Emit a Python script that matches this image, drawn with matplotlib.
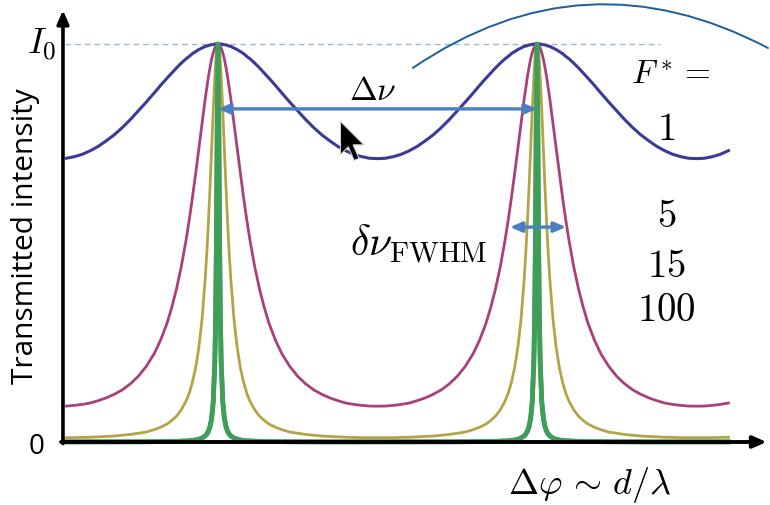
import matplotlib
matplotlib.use("Agg")
import numpy as np
import matplotlib.pyplot as plt
from matplotlib.path import Path

plt.rcParams['mathtext.fontset'] = 'cm'

# distance from a transmission peak, in units of the free spectral range
offset = [0, 0.0025, 0.005, 0.0075, 0.01, 0.015, 0.02, 0.025, 0.03, 0.035, 0.04,
          0.05, 0.06, 0.07, 0.08, 0.09, 0.1, 0.115, 0.13, 0.145, 0.16, 0.18, 0.2,
          0.225, 0.25, 0.275, 0.3, 0.325, 0.35, 0.375, 0.4, 0.425, 0.45, 0.475, 0.5]

# transmitted intensity (I/I0) at those offsets
t_f1 = [1.000, 1.000, 1.000, 1.000, 1.000, 0.999, 0.998, 0.998, 0.996, 0.995, 0.994,
        0.990, 0.986, 0.981, 0.976, 0.969, 0.963, 0.952, 0.940, 0.927, 0.914, 0.896,
        0.877, 0.854, 0.832, 0.810, 0.790, 0.772, 0.757, 0.743, 0.732, 0.723, 0.717,
        0.713, 0.712]
t_f5 = [1.000, 0.999, 0.998, 0.994, 0.990, 0.978, 0.962, 0.941, 0.918, 0.891, 0.863,
        0.801, 0.738, 0.675, 0.615, 0.559, 0.508, 0.441, 0.385, 0.338, 0.298, 0.256,
        0.222, 0.190, 0.165, 0.146, 0.131, 0.120, 0.111, 0.104, 0.098, 0.0945, 0.092,
        0.0903, 0.090]
t_f15 = [1.000, 0.994, 0.978, 0.952, 0.917, 0.832, 0.736, 0.640, 0.553, 0.477, 0.411,
         0.309, 0.238, 0.187, 0.151, 0.123, 0.103, 0.081, 0.065, 0.054, 0.045, 0.037,
         0.031, 0.025, 0.022, 0.019, 0.017, 0.015, 0.014, 0.013, 0.012, 0.0115, 0.011,
         0.011, 0.011]
t_f100 = [1.000, 0.800, 0.500, 0.308, 0.200, 0.100, 0.059, 0.0385, 0.027, 0.020,
          0.0155, 0.010, 0.007, 0.005, 0.004, 0.003, 0.0026, 0.002, 0.0016, 0.0013,
          0.0011, 0.0009, 0.0007, 0.0006, 0.0005, 0.0004, 0.0004, 0.0003, 0.0003,
          0.0003, 0.0003, 0.0003, 0.0003, 0.0003, 0.0003]

peaks = [0, 1, 2]
phase_min, phase_max = -0.48, 1.6

finesse_labels = ['1', '5', '15', '100']
label_y = [0.79, 0.57, 0.445, 0.335]

curves = [
    (t_f100, '#3f9e58', 3.4, 2),
    (t_f15, '#b3a447', 2.0, 3),
    (t_f5, '#a8407c', 2.0, 3),
    (t_f1, '#3b3a96', 2.2, 3),
]


def full_curve(values):
    off = np.array(offset)
    val = np.array(values)
    xs, ys = [], []
    for p in peaks:
        xs.append(p - off[:0:-1])
        ys.append(val[:0:-1])
        xs.append(p + off[:-1])
        ys.append(val[:-1])
    x = np.concatenate(xs)
    y = np.concatenate(ys)
    keep = (x >= phase_min) & (x <= phase_max)
    return x[keep], y[keep]


fig = plt.figure(figsize=(7.7, 5.06), dpi=100)
ax = fig.add_axes([0, 0, 1, 1])
ax.set_xlim(-0.6834, 1.7304)
ax.set_ylim(-0.1583, 1.1131)
ax.axis('off')

for vals, col, lw, z in curves:
    x, y = full_curve(vals)
    ax.plot(x, y, color=col, lw=lw, zorder=z, solid_joinstyle='round')
# green peaks sit on top of the others
x, y = full_curve(t_f100)
ax.plot(x, y, color='#3f9e58', lw=3.4, zorder=4)

# I0 level
ax.plot([-0.48, 1.386], [1, 1], color='#9fb4cf', lw=1.0, ls=(0, (4, 3)), zorder=1)

# axes with arrows
ax.annotate('', xy=(-0.486, 1.085), xytext=(-0.486, -0.004),
            arrowprops=dict(arrowstyle='-|>,head_length=0.8,head_width=0.35',
                            color='black', lw=2.6, shrinkA=0, shrinkB=0), zorder=5)
ax.annotate('', xy=(1.72, 0), xytext=(-0.492, 0),
            arrowprops=dict(arrowstyle='-|>,head_length=0.8,head_width=0.35',
                            color='black', lw=2.8, shrinkA=0, shrinkB=0), zorder=5)

ax.text(-0.553, 1.0, r'$I_0$', fontsize=26, ha='center', va='center')
ax.text(-0.57, -0.01, '0', fontsize=20, ha='center', va='center', family='Open Sans')
ax.text(-0.603, 0.52, 'Transmitted intensity', fontsize=21.5, rotation=90,
        ha='center', va='center', family='Open Sans')

# free spectral range and linewidth arrows
arrow_c = '#4a7fc1'
ax.annotate('', xy=(1.0, 0.837), xytext=(0.0, 0.837),
            arrowprops=dict(arrowstyle='<|-|>,head_length=0.7,head_width=0.3',
                            color=arrow_c, lw=2.4, shrinkA=0, shrinkB=0), zorder=6)
ax.text(0.485, 0.885, r'$\Delta\nu$', fontsize=24, ha='center', va='center')
ax.annotate('', xy=(1.091, 0.54), xytext=(0.915, 0.54),
            arrowprops=dict(arrowstyle='<|-|>,head_length=0.7,head_width=0.3',
                            color=arrow_c, lw=2.4, shrinkA=0, shrinkB=0), zorder=6)
ax.text(0.628, 0.5, r'$\delta\nu_{\mathrm{FWHM}}$', fontsize=30, ha='center',
        va='center')

ax.text(1.42, 0.925, r'$F^* =$', fontsize=24, ha='center', va='center')
for lab, yy in zip(finesse_labels, label_y):
    ax.text(1.405, yy, r'$%s$' % lab, fontsize=28, ha='center', va='center')

ax.text(1.166, -0.105, r'$\Delta\varphi \,\sim\, d/\lambda$', fontsize=26,
        ha='center', va='center')

# hand-drawn arc at the top
ax.annotate('', xy=(1.724, 0.99), xytext=(0.611, 0.94),
            arrowprops=dict(arrowstyle='-', color='#1c5d9c', lw=1.4,
                            connectionstyle='arc3,rad=-0.3', shrinkA=0, shrinkB=0))

# mouse pointer (tip at the marker position)
cursor = Path([(0, 0), (0, -17), (4, -13), (7, -20), (9.5, -19), (6.5, -12),
               (12, -12), (0, 0)],
              [Path.MOVETO] + [Path.LINETO] * 6 + [Path.CLOSEPOLY])
ax.plot([0.382], [0.807], marker=cursor, markersize=56, color='black',
        markeredgecolor='#cccccc', markeredgewidth=0.8, zorder=7)

fig.savefig('out.png', dpi=100)
